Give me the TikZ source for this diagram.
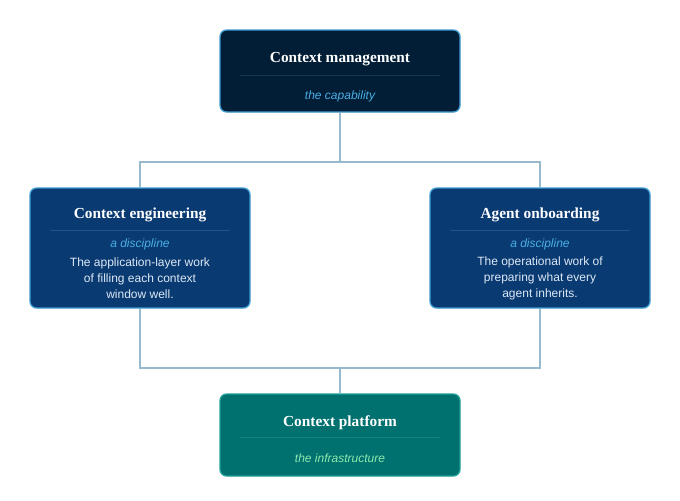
\documentclass[tikz,border=0pt]{standalone}
\usepackage{fontspec}
\setmainfont{Liberation Serif}
\setsansfont{Liberation Sans}
\definecolor{topf}{HTML}{021E36}
\definecolor{midf}{HTML}{0A3A72}
\definecolor{botf}{HTML}{00716E}
\definecolor{bord}{HTML}{3C9AD0}
\definecolor{bordg}{HTML}{1EA096}
\definecolor{subb}{HTML}{4AAEE6}
\definecolor{subg}{HTML}{8EE8B0}
\definecolor{connc}{HTML}{96B9CD}
\definecolor{divt}{HTML}{143750}
\definecolor{divm}{HTML}{1E5587}
\definecolor{divb}{HTML}{14827D}
\definecolor{bodyc}{HTML}{DCE8F5}
\begin{document}
\begin{tikzpicture}[x=0.75pt,y=-0.75pt,
  box/.style={draw=#1,line width=1pt,rounded corners=5pt,inner sep=0pt},
  ttl/.style={font=\rmfamily\bfseries\fontsize{11.5}{13}\selectfont,text=white},
  sub/.style={font=\sffamily\itshape\fontsize{9}{11}\selectfont,text=#1},
  body/.style={font=\sffamily\fontsize{9}{12}\selectfont,text=bodyc,align=center},
  conn/.style={draw=connc,line width=0.8pt}]
\useasboundingbox (0,0) rectangle (680,500);
\coordinate (j1) at (340,162);
\coordinate (j2) at (340,368);
\node[box=bord,fill=topf,minimum width=180pt,minimum height=61.5pt] (top) at (340,71) {};
\node[box=bord,fill=midf,minimum width=165pt,minimum height=90pt] (left) at (140,248) {};
\node[box=bord,fill=midf,minimum width=165pt,minimum height=90pt] (right) at (540,248) {};
\node[box=bordg,fill=botf,minimum width=180pt,minimum height=61.5pt] (bot) at (340,435) {};
\draw[conn] (top.south) -- (j1) -| (left.north);
\draw[conn] (j1) -| (right.north);
\draw[conn] (left.south) |- (j2) -| (right.south);
\draw[conn] (j2) -- (bot.north);
\node[ttl] (t1) at (340,59) {Context management};
\draw[divt,line width=0.6pt] (240,75) -- (440,75);
\node[sub=subb] (s1) at (340,96) {the capability};
\node[ttl] (t2) at (140,215) {Context engineering};
\draw[divm,line width=0.6pt] (50,230) -- (230,230);
\node[sub=subb] (s2) at (140,244) {a discipline};
\node[body] (b2) at (140,278) {The application-layer work\\of filling each context\\window well.};
\node[ttl] (t3) at (540,215) {Agent onboarding};
\draw[divm,line width=0.6pt] (450,230) -- (630,230);
\node[sub=subb] (s3) at (540,244) {a discipline};
\node[body] (b3) at (540,278) {The operational work of\\preparing what every\\agent inherits.};
\node[ttl] (t4) at (340,423) {Context platform};
\draw[divb,line width=0.6pt] (240,437) -- (440,437);
\node[sub=subg] (s4) at (340,458) {the infrastructure};
\end{tikzpicture}
\end{document}
